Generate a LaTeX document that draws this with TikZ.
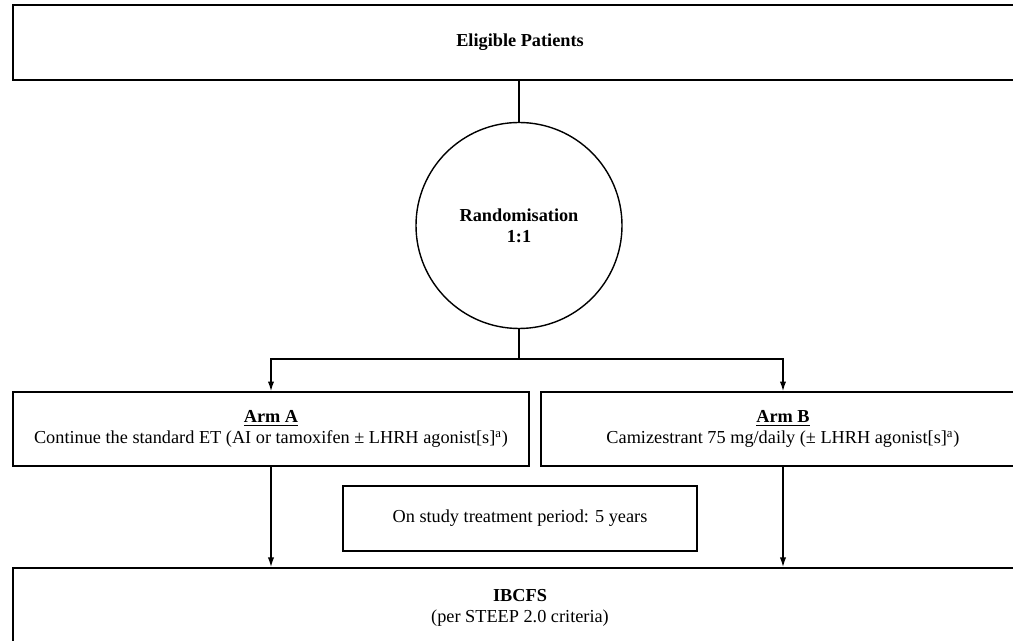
\documentclass[tikz,border=0pt]{standalone}
\usepackage{fontspec}
\setmainfont{Liberation Serif}
\usetikzlibrary{arrows.meta}
\begin{document}
\begin{tikzpicture}[
    every node/.style={font=\fontsize{10.4}{12}\selectfont},
    box/.style={draw, line width=0.9pt, align=center, inner sep=0pt},
    link/.style={line width=0.75pt},
    arr/.style={-{Latex[length=5.5pt,width=3.6pt]}}]
  \useasboundingbox (0,0) rectangle (20.26,12.82);
  \node[box, line width=1.1pt, minimum width=20.28cm, minimum height=1.5cm] at (10.40,11.97) (E) {\textbf{Eligible Patients}};
  \node[draw, circle, line width=0.8pt, minimum size=4.12cm, align=center] at (10.38,8.31) (R) {\textbf{Randomisation}\\\textbf{1:1}};
  \node[box, minimum width=10.32cm, minimum height=1.48cm] at (5.42,4.24) (A) {\underline{\textbf{Arm A}}\\Continue the standard ET (AI or tamoxifen ± LHRH agonist[s]\textsuperscript{a})};
  \node[box, minimum width=9.68cm, minimum height=1.48cm] at (15.66,4.24) (B) {\underline{\textbf{Arm B}}\\Camizestrant 75 mg/daily (± LHRH agonist[s]\textsuperscript{a})};
  \node[box, minimum width=7.08cm, minimum height=1.30cm] at (10.40,2.45) (P) {On study treatment period: 5 years};
  \node[box, line width=1.1pt, minimum width=20.28cm, minimum height=1.6cm] at (10.40,0.66) (I) {\textbf{IBCFS}\\(per STEEP 2.0 criteria)};
  \coordinate (S) at (10.38,5.64);
  \draw[link] (R.north) -- (R.north |- E.south);
  \draw[link] (R.south) -- (S);
  \draw[link,arr] (S) -| (A.north);
  \draw[link,arr] (S) -| (B.north);
  \draw[link,arr] (A.south) -- (A.south |- I.north);
  \draw[link,arr] (B.south) -- (B.south |- I.north);
\end{tikzpicture}
\end{document}
